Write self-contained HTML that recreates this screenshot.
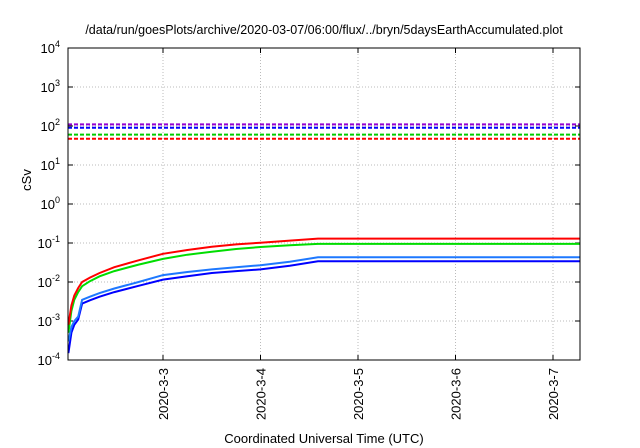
<!DOCTYPE html>
<html><head><meta charset="utf-8"><style>body{margin:0;background:#fff}svg{display:block;font-family:"Liberation Sans",sans-serif}</style></head>
<body>
<svg id="chart" width="640" height="448">
<text x="324" y="34" font-size="12.5" text-anchor="middle">/data/run/goesPlots/archive/2020-03-07/06:00/flux/../bryn/5daysEarthAccumulated.plot</text>
<text transform="translate(31,180) rotate(-90)" font-size="13" text-anchor="middle">cSv</text>
<text x="324" y="443" font-size="13" text-anchor="middle">Coordinated Universal Time (UTC)</text>
<g id="grid"></g><g id="axes"></g><g id="series"></g>
<rect x="68" y="48" width="512" height="312" fill="none" stroke="#000" stroke-width="1"/>
</svg>
<script>
const yTickExps=[-4,-3,-2,-1,0,1,2,3,4];
const xTickDays=[3,4,5,6,7];
const xTickLabels=["2020-3-3","2020-3-4","2020-3-5","2020-3-6","2020-3-7"];
const times=[2.03,2.06,2.09,2.13,2.17,2.25,2.35,2.5,2.75,3.0,3.25,3.5,3.75,4.0,4.3,4.59,7.28];
const redVals=[0.0008,0.0025,0.0045,0.007,0.010,0.013,0.017,0.024,0.036,0.053,0.066,0.080,0.092,0.102,0.115,0.13,0.13];
const greenVals=[0.0005,0.0018,0.0035,0.0055,0.0078,0.0105,0.014,0.019,0.028,0.039,0.050,0.060,0.070,0.079,0.088,0.095,0.095];
const lightBlueVals=[0.0003,0.0007,0.0010,0.0013,0.0035,0.0042,0.0052,0.0068,0.010,0.015,0.018,0.021,0.024,0.027,0.033,0.043,0.043];
const darkBlueVals=[0.00015,0.0005,0.0008,0.0011,0.0028,0.0034,0.0042,0.0055,0.008,0.0115,0.014,0.017,0.019,0.021,0.026,0.034,0.034];
const limitVals=[110,90,60,47];
const limitColors=["#9400d3","#0000ff","#00cc00","#ff0000"];
const NS="http://www.w3.org/2000/svg";
const L=68,R=580,T=48,B=360;
function xs(d){return 163+(d-3)*97.5;}
function ys(v){return B-(Math.log10(v)+4)*39;}
function mk(tag,attrs,parent){const e=document.createElementNS(NS,tag);for(const k in attrs)e.setAttribute(k,attrs[k]);document.getElementById(parent).appendChild(e);return e;}
yTickExps.forEach(e=>{
  const y=ys(Math.pow(10,e));
  if(e>-4&&e<4){const g=mk('line',{x1:L,x2:R,y1:y,y2:y,stroke:'#bbb','stroke-dasharray':'1,2'},'grid');
  
  }
  mk('line',{x1:L,x2:L+5,y1:y,y2:y,stroke:'#000'},'axes');
  mk('line',{x1:R-5,x2:R,y1:y,y2:y,stroke:'#000'},'axes');
  const t=mk('text',{x:L-8,y:y+5,'font-size':13,'text-anchor':'end'},'axes');
  
  
  t.innerHTML='10<tspan dy="-6" font-size="9">'+e+'</tspan>';
});
xTickDays.forEach((d,i)=>{
  const x=xs(d);
  const g=mk('line',{x1:x,x2:x,y1:T,y2:B,stroke:'#bbb','stroke-dasharray':'1,2'},'grid');
  
  
  mk('line',{x1:x,x2:x,y1:B-5,y2:B,stroke:'#000'},'axes');
  mk('line',{x1:x,x2:x,y1:T,y2:T+5,stroke:'#000'},'axes');
  const t=mk('text',{transform:'translate('+(x+5)+',368) rotate(-90)','font-size':13,'text-anchor':'end'},'axes');
  
  
  t.textContent=xTickLabels[i];
});
limitVals.forEach((v,i)=>{
  const y=ys(v);
  const l=mk('line',{x1:L,x2:R,y1:y,y2:y,stroke:limitColors[i],'stroke-width':2,'stroke-dasharray':'4,2'},'series');
  
  
});
[[darkBlueVals,'#0000ff','dark-blue-series'],[lightBlueVals,'#1e78ff','light-blue-series'],[greenVals,'#00dd00','green-series'],[redVals,'#ff0000','red-series']].forEach(s=>{
  const pts=times.map((t,i)=>xs(t).toFixed(1)+','+ys(s[0][i]).toFixed(1)).join(' ');
  const p=mk('polyline',{points:pts,fill:'none',stroke:s[1],'stroke-width':2},'series');
  
  
});
</script>
</body></html>
